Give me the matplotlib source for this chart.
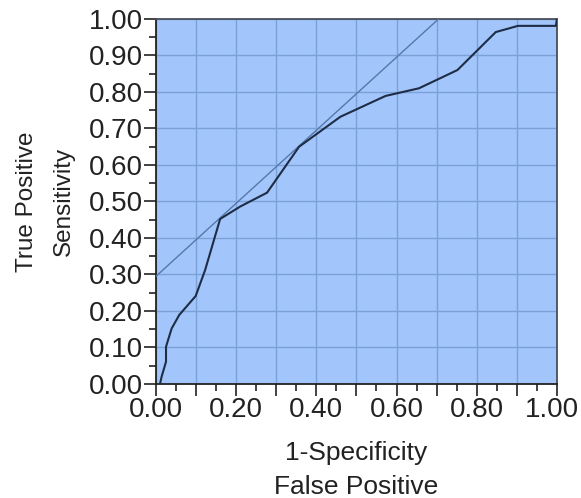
import matplotlib.pyplot as plt
import numpy as np
from matplotlib.ticker import MultipleLocator, FuncFormatter
from matplotlib.transforms import ScaledTranslation

plt.rcParams['font.family'] = ['Liberation Sans', 'DejaVu Sans']

# ROC curve points
fpr = [0.010, 0.014, 0.025, 0.025, 0.039, 0.058, 0.099, 0.1225, 0.160,
       0.210, 0.277, 0.357, 0.460, 0.5725, 0.656, 0.752, 0.8475, 0.903,
       0.9975, 1.000]
tpr = [0.000, 0.020, 0.061, 0.102, 0.152, 0.189, 0.241, 0.312, 0.452,
       0.486, 0.524, 0.650, 0.732, 0.789, 0.810, 0.860, 0.964, 0.981,
       0.981, 1.000]

# tangent line (slope 1)
tan_x = [0.0, 0.705]
tan_y = [0.295, 1.0]

fig = plt.figure(figsize=(5.81, 4.98), dpi=100)
ax = fig.add_axes([0.2685, 0.229, 0.690, 0.733])

ax.set_facecolor('#a2c6fb')
ax.plot(tan_x, tan_y, color='#5678a8', lw=1.0, zorder=3)
ax.plot(fpr, tpr, color='#1e2c45', lw=1.5, zorder=4)

ax.set_xlim(0, 1)
ax.set_ylim(0, 1)

ax.xaxis.set_major_locator(MultipleLocator(0.1))
ax.xaxis.set_minor_locator(MultipleLocator(0.05))
ax.yaxis.set_major_locator(MultipleLocator(0.1))
ax.yaxis.set_minor_locator(MultipleLocator(0.05))

def xfmt(v, pos):
    k = int(round(v * 10))
    return f"{v:.2f}" if k % 2 == 0 else ""

ax.xaxis.set_major_formatter(FuncFormatter(xfmt))
ax.yaxis.set_major_formatter(FuncFormatter(lambda v, p: f"{v:.2f}"))

ax.grid(True, which='major', color='#7ba2d8', lw=1.0, zorder=1)
ax.set_axisbelow(True)

ax.tick_params(axis='both', which='major', length=8.5, width=1.2,
               labelsize=20, color='#222222', labelcolor='#222222', pad=1)
ax.tick_params(axis='both', which='minor', length=5, width=1.2, color='#222222')

for s in ['left', 'bottom']:
    ax.spines[s].set_color('#222222')
    ax.spines[s].set_linewidth(1.3)
for s in ['top', 'right']:
    ax.spines[s].set_color('#4a4f58')
    ax.spines[s].set_linewidth(1.3)

ax.set_xlabel("1-Specificity\nFalse Positive", fontsize=19, color='#222222',
              linespacing=1.5, labelpad=13)
ax.set_ylabel("True Positive\nSensitivity", fontsize=17.5, color='#222222',
              linespacing=1.85, labelpad=10)

# nudge the last x label inward so it stays on the canvas
fig.canvas.draw()
for tick in ax.xaxis.get_major_ticks():
    if abs(tick.get_loc() - 1.0) < 1e-6:
        lab = tick.label1
        lab.set_transform(lab.get_transform() + ScaledTranslation(-0.05, 0, fig.dpi_scale_trans))

fig.savefig('out.png', dpi=100)
